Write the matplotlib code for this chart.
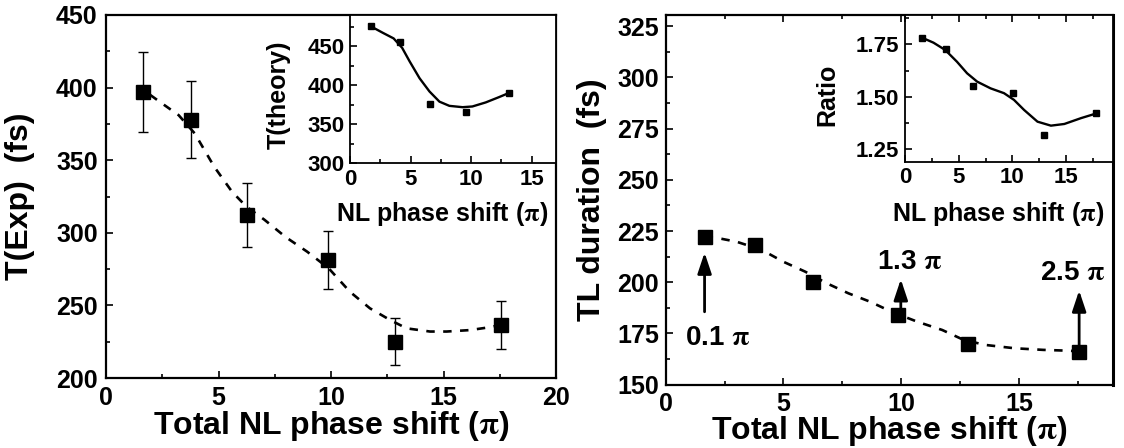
import matplotlib
matplotlib.use("Agg")
import matplotlib.pyplot as plt
from matplotlib.ticker import MultipleLocator, FormatStrFormatter

plt.rcParams['font.family'] = ['Liberation Sans', 'DejaVu Sans']
plt.rcParams['font.weight'] = 'bold'
plt.rcParams['mathtext.fontset'] = 'stix'

# ---------------- data ----------------
phase = [1.65, 3.77, 6.27, 9.88, 12.83, 17.55]

t_exp = [397, 378, 312, 281, 225, 236.5]
t_exp_err = [27.5, 26.5, 22, 20, 16, 16.5]
fit_exp_x = [1.96, 2.59, 3.23, 3.94, 4.81, 5.6, 6.24, 7.04, 7.99, 8.94, 9.9,
             10.84, 11.73, 12.62, 13.36, 14.4, 15.14, 16.18, 17.07, 17.5]
fit_exp_y = [395, 388, 381, 368.5, 345.5, 328.3, 318, 309, 297, 287, 275.5,
             259.4, 248, 240, 234.2, 232, 232, 233, 235, 236.5]

theory_x = [1.7, 4.15, 6.61, 9.59, 13.1]
t_theory = [475.6, 455.5, 376.6, 366.3, 390]
fit_th_x = [1.7, 2.73, 3.6, 4.3, 4.92, 5.74, 6.56, 7.38, 8.2, 9.29, 10.1, 11.2, 12.3, 13.1]
fit_th_y = [475.6, 467, 460, 448, 430.6, 409, 392, 379, 373.6, 371.9, 372.8, 378, 384.8, 390]

tl_dur = [222, 218.2, 200.3, 184.2, 169.8, 165.9]
fit_tl_x = [1.65, 2.25, 3.01, 4.08, 5.0, 5.92, 6.84, 7.76, 8.68, 9.59, 10.67,
            11.74, 12.66, 13.58, 14.8, 16.02, 17.1, 17.55]
fit_tl_y = [222, 221.5, 219.8, 215.8, 210, 205.2, 199.5, 194.6, 190.5, 185.6,
            180.8, 176.7, 171.8, 169.4, 167.8, 167, 166.6, 166.3]

ratio_x = [1.62, 3.81, 6.31, 10.06, 12.96, 17.8]
ratio = [1.781, 1.726, 1.551, 1.52, 1.317, 1.42]
fit_ratio_x = [1.62, 2.65, 3.75, 4.84, 5.78, 6.72, 7.97, 9.22, 10.15, 11.09,
               12.34, 13.59, 14.84, 16.4, 17.8]
fit_ratio_y = [1.781, 1.758, 1.723, 1.667, 1.612, 1.572, 1.54, 1.517, 1.485,
               1.437, 1.381, 1.362, 1.37, 1.398, 1.42]

ann_labels = [r'0.1 $\mathrm{\pi}$', r'1.3 $\mathrm{\pi}$', r'2.5 $\mathrm{\pi}$']
ann_x = [1.65, 9.98, 17.55]
ann_tail = [185.6, 187.3, 169.4]
ann_head = [214.5, 201.5, 196]
ann_text_x = [2.2, 10.36, 17.27]
ann_text_y = [172.7, 210, 204.4]

PI = r'$\mathrm{\pi}$'

# ---------------- figure ----------------
fig = plt.figure(figsize=(11.24, 4.48), dpi=100)
W, H = 1124, 448


def px_axes(x0, x1, ytop, ybot):
    return fig.add_axes([x0 / W, 1 - ybot / H, (x1 - x0) / W, (ybot - ytop) / H])


def style(ax, major_x, minor_x, major_y, minor_y, lsize, spw, pad, top=False):
    ax.xaxis.set_major_locator(MultipleLocator(major_x))
    ax.xaxis.set_minor_locator(MultipleLocator(minor_x))
    ax.yaxis.set_major_locator(MultipleLocator(major_y))
    ax.yaxis.set_minor_locator(MultipleLocator(minor_y))
    ax.tick_params(which='both', direction='in', width=1.2, top=top,
                   labelsize=lsize, pad=pad)
    ax.tick_params(which='major', length=5)
    ax.tick_params(which='minor', length=3)
    for sp in ax.spines.values():
        sp.set_linewidth(spw)


# ---- left main ----
ax1 = px_axes(106, 556, 15, 378)
ax1.errorbar(phase, t_exp, yerr=t_exp_err, fmt='s', color='k', ms=9.5,
             ecolor='k', elinewidth=1.0, capsize=3.5, capthick=1.0, zorder=3)
ax1.plot(fit_exp_x, fit_exp_y, color='k', lw=1.9, ls=(0, (3.2, 3.2)), zorder=2)
ax1.set_xlim(0, 20)
ax1.set_ylim(200, 450)
style(ax1, 5, 2.5, 50, 25, 18, 1.6, 6)
ax1.set_xlabel('Total NL phase shift (' + PI + ')', fontsize=23, fontweight='bold')
ax1.set_ylabel('T(Exp)  (fs)', fontsize=23, fontweight='bold')
ax1.xaxis.set_label_coords(0.5, -0.085)
ax1.yaxis.set_label_coords(-0.157, 0.5)

# ---- left inset ----
ax1i = px_axes(350, 556, 15, 163.3)
ax1i.plot(theory_x, t_theory, 's', color='k', ms=4.5, zorder=3)
ax1i.plot(fit_th_x, fit_th_y, color='k', lw=1.7, zorder=2)
ax1i.set_xlim(0, 17)
ax1i.set_ylim(300, 490)
style(ax1i, 5, 2.5, 50, 25, 16, 1.3, 4)
ax1i.set_xlabel('NL phase shift (' + PI + ')', fontsize=18, fontweight='bold')
ax1i.set_ylabel('T(theory)', fontsize=18, fontweight='bold')
ax1i.xaxis.set_label_coords(0.45, -0.25)
ax1i.yaxis.set_label_coords(-0.286, 0.46)

# ---- right main ----
ax2 = px_axes(665.7, 1113.3, 15, 384.7)
ax2.plot(phase, tl_dur, 's', color='k', ms=9.5, zorder=3)
ax2.plot(fit_tl_x, fit_tl_y, color='k', lw=1.9, ls=(0, (3.2, 3.2)), zorder=2)
ax2.set_xlim(0, 19)
ax2.set_ylim(150, 330.5)
style(ax2, 5, 2.5, 25, 12.5, 18, 1.6, 5, top=True)
ax2.spines['right'].set_linewidth(2.2)
ax2.set_xlabel('Total NL phase shift (' + PI + ')', fontsize=23, fontweight='bold')
ax2.set_ylabel('TL duration  (fs)', fontsize=23, fontweight='bold')
ax2.xaxis.set_label_coords(0.5, -0.08)
ax2.yaxis.set_label_coords(-0.131, 0.5)
for lab, x, t, h, tx, ty in zip(ann_labels, ann_x, ann_tail, ann_head,
                                ann_text_x, ann_text_y):
    ax2.annotate('', xy=(x, h), xytext=(x, t),
                 arrowprops=dict(arrowstyle='-|>,head_length=0.9,head_width=0.3',
                                 lw=2, color='k', mutation_scale=14,
                                 shrinkA=0, shrinkB=0))
    ax2.text(tx, ty, lab, fontsize=20, fontweight='bold', ha='center', va='center')

# ---- right inset ----
ax2i = px_axes(905, 1113.3, 15, 161.7)
ax2i.plot(ratio_x, ratio, 's', color='k', ms=4.5, zorder=3)
ax2i.plot(fit_ratio_x, fit_ratio_y, color='k', lw=1.7, zorder=2)
ax2i.set_xlim(0, 19.4)
ax2i.set_ylim(1.19, 1.89)
style(ax2i, 5, 2.5, 0.25, 0.125, 16, 1.3, 4, top=True)
ax2i.yaxis.set_major_formatter(FormatStrFormatter('%.2f'))
ax2i.set_xlabel('NL phase shift (' + PI + ')', fontsize=18, fontweight='bold')
ax2i.set_ylabel('Ratio', fontsize=18, fontweight='bold')
ax2i.xaxis.set_label_coords(0.446, -0.26)
ax2i.yaxis.set_label_coords(-0.315, 0.458)

fig.savefig('out.png', dpi=100)
